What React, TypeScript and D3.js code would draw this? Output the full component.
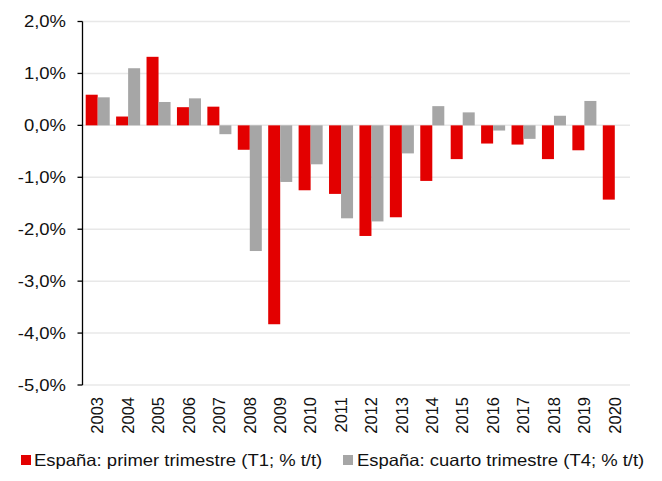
import React from "react";
import * as d3 from "d3";

const years = ["2003","2004","2005","2006","2007","2008","2009","2010","2011","2012","2013","2014","2015","2016","2017","2018","2019","2020"];
const t1Values: (number | null)[] = [0.59, 0.17, 1.32, 0.35, 0.36, -0.47, -3.83, -1.25, -1.32, -2.13, -1.77, -1.07, -0.65, -0.35, -0.37, -0.65, -0.48, -1.43];
const t4Values: (number | null)[] = [0.54, 1.10, 0.45, 0.52, -0.17, -2.42, -1.09, -0.75, -1.79, -1.85, -0.54, 0.37, 0.25, -0.10, -0.26, 0.185, 0.47, null];
const yTicks = [2, 1, 0, -1, -2, -3, -4, -5];
const seriesNames = ["España: primer trimestre (T1; % t/t)", "España: cuarto trimestre (T4; % t/t)"];
const seriesColors = ["#E30000", "#A6A6A6"];

const W = 662, H = 481;
const left = 82.5, right = 630, top = 21.5, bottom = 385;
const font = "'Liberation Sans', Arial, sans-serif";
const fs = 16.5;
const sx = 1.12;

export default function App() {
  const x = d3.scaleBand<string>().domain(years).range([left, right]).paddingInner(0.21).paddingOuter(0.105);
  const sub = d3.scaleBand<string>().domain(["t1", "t4"]).range([0, x.bandwidth()]).padding(0);
  const y = d3.scaleLinear().domain([-5, 2]).range([bottom, top]);
  const fmt = (v: number) => v.toFixed(1).replace(".", ",") + "%";
  const series = [t1Values, t4Values];
  const keys = ["t1", "t4"];

  return (
    <svg width={W} height={H} style={{ position: "absolute", left: 0, top: 0, background: "#fff" }}>
      <rect x={0} y={0} width={W} height={H} fill="#fff" />
      {yTicks.map((t) => (
        <line key={"g" + t} x1={left} x2={right} y1={y(t)} y2={y(t)} stroke="#E8E8E8" strokeWidth={1.5} />
      ))}
      {series.map((vals, si) =>
        vals.map((v, i) =>
          v === null ? null : (
            <rect
              key={si + "-" + i}
              x={(x(years[i]) as number) + (sub(keys[si]) as number)}
              width={sub.bandwidth()}
              y={y(Math.max(0, v))}
              height={Math.abs(y(v) - y(0))}
              fill={seriesColors[si]}
            />
          )
        )
      )}
      <line x1={left} x2={left} y1={y(2)} y2={y(-5)} stroke="#000" strokeWidth={1.3} />
      {yTicks.map((t) => (
        <g key={"t" + t}>
          <line x1={left - 5} x2={left} y1={y(t)} y2={y(t)} stroke="#000" strokeWidth={1.3} />
          <text transform={`translate(66,${y(t)}) scale(${sx},1)`} dy="0.35em" textAnchor="end" fontFamily={font} fontSize={fs} fill="#111">
            {fmt(t)}
          </text>
        </g>
      ))}
      {years.map((yr) => {
        const cx = (x(yr) as number) + x.bandwidth() / 2;
        return (
          <text key={yr} transform={`translate(${cx},${397}) rotate(-90)`} textAnchor="end" dy="0.35em" fontFamily={font} fontSize={fs} fill="#111">
            {yr}
          </text>
        );
      })}
      <rect x={21} y={455} width={10} height={10} fill={seriesColors[0]} />
      <text transform={`translate(34,466) scale(${sx},1)`} fontFamily={font} fontSize={fs} fill="#111">{seriesNames[0]}</text>
      <rect x={343} y={455} width={10} height={10} fill={seriesColors[1]} />
      <text transform={`translate(357,466) scale(${sx},1)`} fontFamily={font} fontSize={fs} fill="#111">{seriesNames[1]}</text>
    </svg>
  );
}
